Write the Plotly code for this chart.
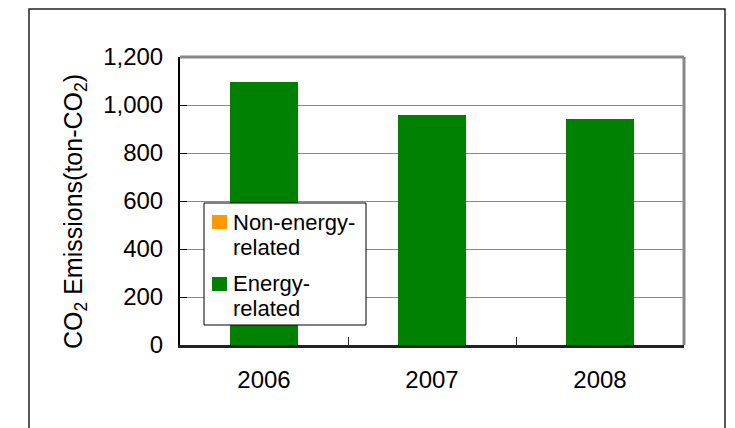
import plotly.graph_objects as go

years = ["2006", "2007", "2008"]
energy = [1097, 960, 942]
non_energy = [0, 0, 0]
y_ticks = [0, 200, 400, 600, 800, 1000, 1200]
series_names = ["Energy-related", "Non-energy-related"]
series_colors = ["#008000", "#FF9900"]

OFF = 8  # page body margin
W, H = 735 - OFF, 428 - OFF
# plot area in screen pixels: x 180..684, y 57..345
L, T = 180 - OFF, 57 - OFF
R = W - (684 - OFF)
B = H - (345 - OFF)
pw, ph = W - L - R, H - T - B


def px(x):
    return (x - OFF - L) / pw


def py(y):
    return (H - B - (y - OFF)) / ph


font = "Liberation Sans, Arial, sans-serif"

fig = go.Figure()
fig.add_trace(go.Bar(x=years, y=energy, name=series_names[0],
                     marker=dict(color=series_colors[0], line=dict(width=0)),
                     showlegend=False))
fig.add_trace(go.Bar(x=years, y=non_energy, name=series_names[1],
                     marker=dict(color=series_colors[1], line=dict(width=0)),
                     showlegend=False))

# legend drawn as a boxed key
legend_shapes = [
    dict(type="rect", xref="paper", yref="paper",
         x0=px(204), x1=px(366), y0=py(325), y1=py(203),
         line=dict(color="black", width=1), fillcolor="white", layer="above"),
    dict(type="rect", xref="paper", yref="paper",
         x0=px(212), x1=px(227), y0=py(229), y1=py(215),
         line=dict(width=0), fillcolor=series_colors[1], layer="above"),
    dict(type="rect", xref="paper", yref="paper",
         x0=px(212), x1=px(227), y0=py(291), y1=py(277),
         line=dict(width=0), fillcolor=series_colors[0], layer="above"),
]
legend_lines = [("Non-energy-", 222), ("related", 247), ("Energy-", 283), ("related", 308)]
legend_ann = [dict(text=t, xref="paper", yref="paper", x=px(231), y=py(yy),
                   xanchor="left", yanchor="middle", showarrow=False,
                   font=dict(size=22, family=font, color="black"))
              for t, yy in legend_lines]

fig.update_layout(
    width=W, height=H,
    margin=dict(l=L, r=R, t=T, b=B, pad=0),
    barmode="stack", bargap=0.59,
    paper_bgcolor="white", plot_bgcolor="white",
    font=dict(family=font, size=24, color="black"),
    showlegend=False,
    xaxis=dict(showline=True, linecolor="#222222", linewidth=2.5,
               ticks="inside", tickson="boundaries", ticklen=8,
               tickcolor="#222222", tickwidth=1, showgrid=False,
               ticklabelstandoff=11, range=[-0.5, 2.5],
               tickfont=dict(size=24)),
    yaxis=dict(range=[0, 1200], tickvals=y_ticks, tickformat=",",
               showline=True, linecolor="black", linewidth=2,
               ticks="inside", ticklen=7, tickcolor="black", tickwidth=1,
               showgrid=True, gridcolor="#888888", gridwidth=1,
               ticklabelstandoff=10, zeroline=False,
               tickfont=dict(size=24)),
    annotations=[dict(text="CO<sub>2</sub> Emissions(ton-CO<sub>2</sub>)",
                      xref="paper", yref="paper", x=px(75), y=py(212),
                      textangle=-90, showarrow=False,
                      font=dict(size=25, family=font),
                      xanchor="center", yanchor="middle")] + legend_ann,
    shapes=[
        dict(type="line", xref="paper", yref="paper", x0=0, x1=1, y0=1, y1=1,
             line=dict(color="#888888", width=3)),
        dict(type="line", xref="paper", yref="paper", x0=1, x1=1, y0=0, y1=1,
             line=dict(color="#888888", width=3)),
        dict(type="rect", xref="paper", yref="paper",
             x0=px(29), x1=px(725), y0=py(445), y1=py(9),
             line=dict(color="#222222", width=1.5), layer="below"),
    ] + legend_shapes,
)

fig.write_html("out.html")
